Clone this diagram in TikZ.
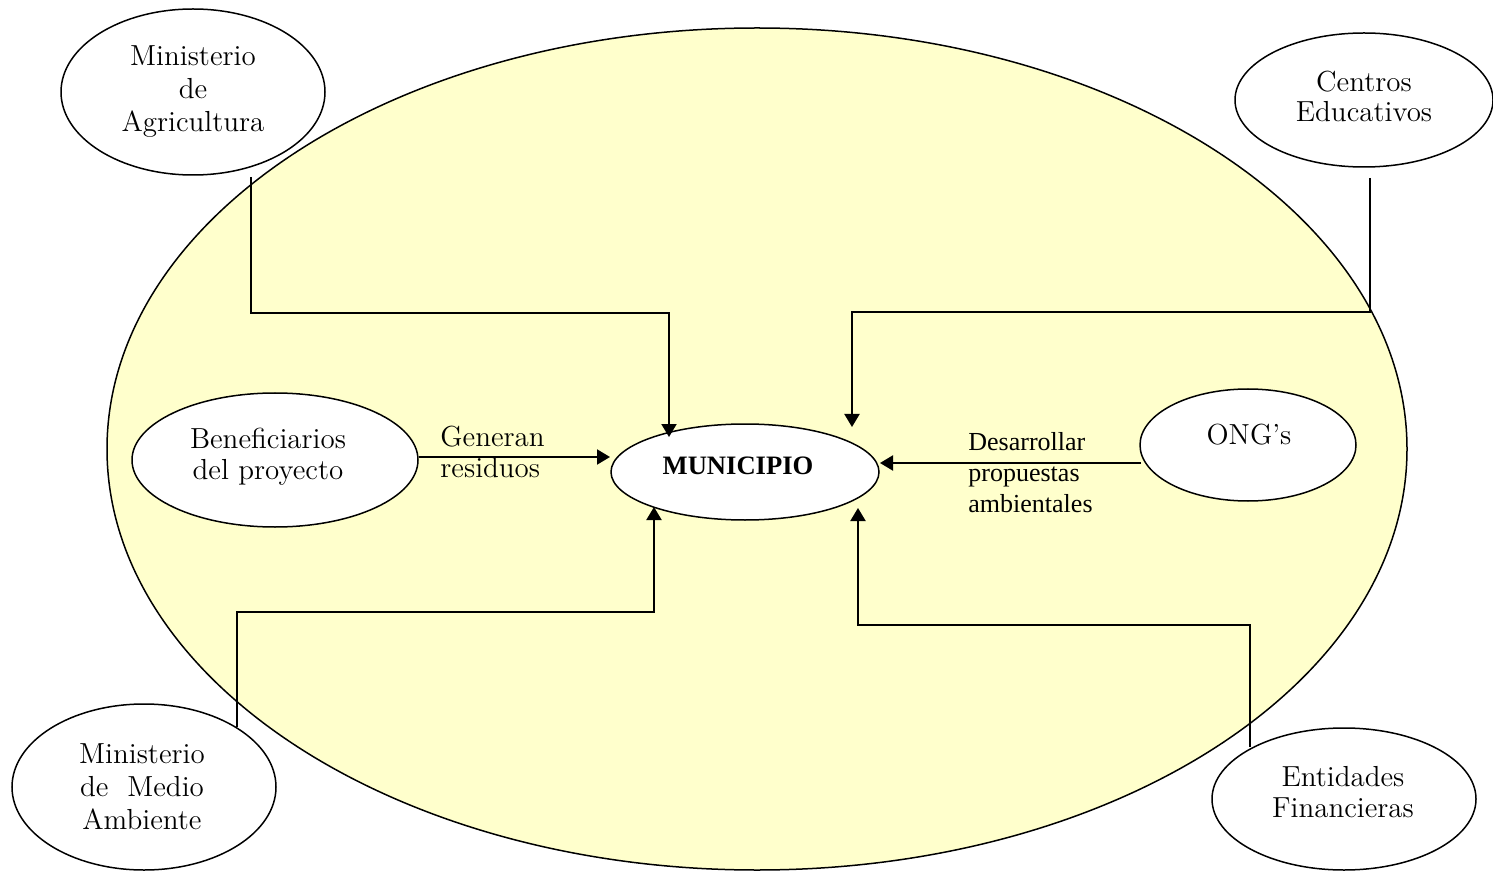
\documentclass[tikz,border=0pt]{standalone}
\usepackage{fontspec}
\newfontfamily\timesf{Liberation Serif}
\usetikzlibrary{shapes.geometric,arrows.meta}
\definecolor{bgyellow}{HTML}{FFFFCC}
\begin{document}
\begin{tikzpicture}[x=0.5pt,y=-0.5pt,
  bub/.style={ellipse,draw,line width=0.75pt,fill=white,inner sep=0pt},
  lbl/.style={align=center,inner sep=0pt},
  arr/.style={line width=1pt,-{Triangle[length=6.5pt,width=7.5pt]}},
  link/.style={line width=1pt}]
\useasboundingbox (0,0) rectangle (1493,871);
% background ellipse
\node[ellipse,draw,line width=0.75pt,fill=bgyellow,inner sep=0pt,
      minimum width=650pt,minimum height=421pt] (bg) at (757,449) {};
% bubbles
\node[bub,minimum width=132pt,minimum height=83pt] (agr) at (193,92) {};
\node[bub,minimum width=129pt,minimum height=67pt] (edu) at (1364,100) {};
\node[bub,minimum width=143pt,minimum height=67pt] (ben) at (275,460) {};
\node[bub,minimum width=134pt,minimum height=48pt] (muni) at (745,472) {};
\node[bub,minimum width=108pt,minimum height=56pt] (ong) at (1248,445) {};
\node[bub,minimum width=132pt,minimum height=83pt] (med) at (144,787) {};
\node[bub,minimum width=132pt,minimum height=71pt] (fin) at (1344,799) {};
% texts
\node[lbl,font=\fontsize{14.5}{16.5}\selectfont] (agrT) at (193,92) {Ministerio\\de\\Agricultura};
\node[lbl,font=\fontsize{14.5}{15}\selectfont] (eduT) at (1364,96) {Centros\\Educativos};
\node[lbl,font=\fontsize{14.5}{15.5}\selectfont] (benT) at (268,457) {Beneficiarios\\del proyecto};
\node[lbl,font=\timesf\bfseries\fontsize{13.3}{15}\selectfont] (muniT) at (738,466) {MUNICIPIO};
\node[lbl,font=\fontsize{14.5}{16}\selectfont] (ongT) at (1249,435) {ONG’s};
\node[lbl,font=\fontsize{14.5}{16.5}\selectfont] (medT) at (142,787) {Ministerio\\de~ Medio\\Ambiente};
\node[lbl,font=\fontsize{14.5}{15.5}\selectfont] (finT) at (1343,792) {Entidades\\Financieras};
% connectors
\coordinate (agrOut) at (251,177);
\coordinate (agrBend) at (669,313);
\coordinate (agrIn) at (669,437);
\draw[arr] (agrOut) |- (agrBend) -- (agrIn);

\coordinate (eduOut) at (1370,178);
\coordinate (eduBend) at (852,312);
\coordinate (eduIn) at (852,427);
\draw[arr] (eduOut) |- (eduBend) -- (eduIn);

\coordinate (benOut) at (419,457);
\coordinate (benIn) at (610,457);
\draw[arr] (benOut) -- (benIn);

\coordinate (ongOut) at (1141,463);
\coordinate (ongIn) at (880,463);
\draw[arr] (ongOut) -- (ongIn);

\coordinate (medOut) at (237,727);
\coordinate (medBend) at (654,612);
\coordinate (medIn) at (654,507);
\draw[arr] (medOut) |- (medBend) -- (medIn);

\coordinate (finOut) at (1250,747);
\coordinate (finBend) at (858,625);
\coordinate (finIn) at (858,508);
\draw[arr] (finOut) |- (finBend) -- (finIn);
% connector labels
\node[anchor=north west,align=left,inner sep=0pt,font=\fontsize{14.5}{15.5}\selectfont] (genL) at (440,426) {Generan\\residuos};
\node[anchor=north west,align=left,inner sep=0pt,font=\timesf\fontsize{13}{15.5}\selectfont] (desL) at (968,432) {Desarrollar\\propuestas\\ambientales};
\end{tikzpicture}
\end{document}
